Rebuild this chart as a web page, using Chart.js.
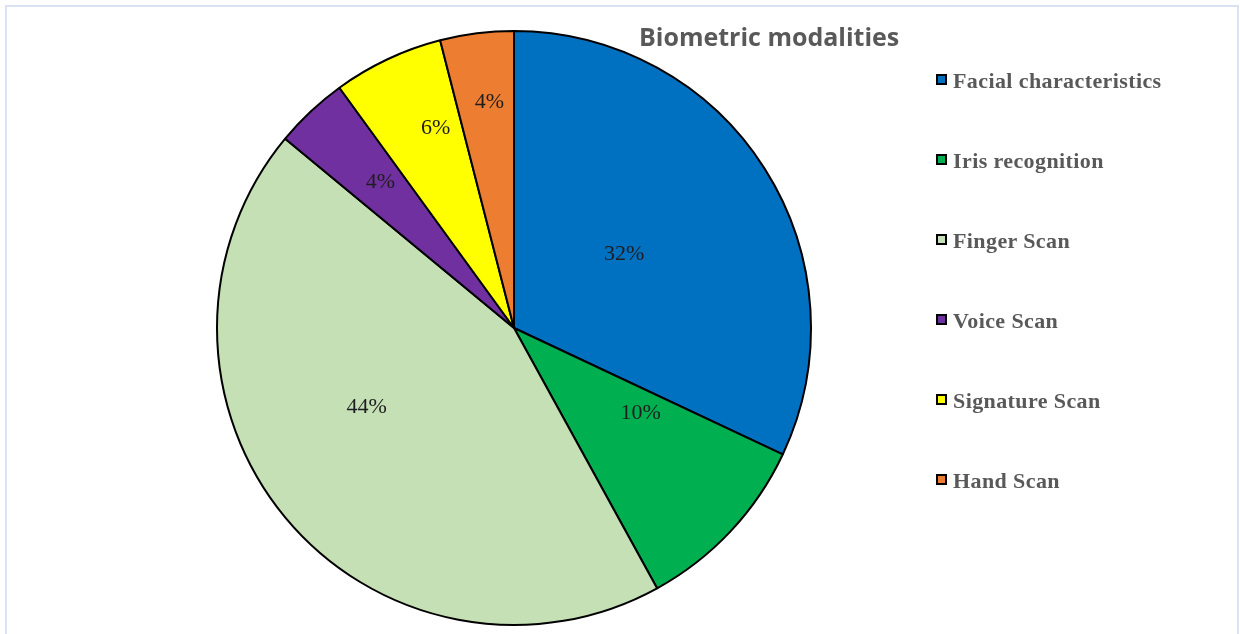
<!DOCTYPE html>
<html>
<head>
<meta charset="utf-8">
<script src="https://cdn.jsdelivr.net/npm/chart.js@4/dist/chart.umd.min.js"></script>
<style>
	html, body { margin: 0; padding: 0; background: #ffffff; }
	#frame
	{
		position: relative;
		width: 1240px;
		height: 634px;
		overflow: hidden;
	}
	#border
	{
		position: absolute;
		left: 5px; top: 5px;
		width: 1234px; height: 640px;
		border: 2px solid #dae3f3;
		box-sizing: border-box;
	}
	#pie-canvas { position: absolute; left: 0; top: 0; }
	#chart-title
	{
		position: absolute;
		left: 639px; top: 19px;
		font-family: "Open Sans", sans-serif;
		font-weight: bold;
		font-size: 25px;
		color: #595959;
		white-space: nowrap;
	}
	#legend { position: absolute; left: 936px; top: 68px; }
	.legend-item
	{
		position: relative;
		height: 80px;
		font-family: "Liberation Serif", serif;
		font-weight: bold;
		font-size: 22px;
		letter-spacing: 0.4px;
		color: #595959;
		white-space: nowrap;
	}
	.legend-box
	{
		position: absolute;
		left: 0; top: 6px;
		width: 11px; height: 11px;
		border: 2px solid #000000;
		box-sizing: border-box;
	}
	.legend-text { position: absolute; left: 17px; top: 2px; line-height: 22px; }
</style>
</head>
<body>
<div id="frame">
	<div id="border"></div>
	<canvas id="pie-canvas" width="1240" height="634"></canvas>
	<div id="chart-title">Biometric modalities</div>
	<div id="legend"></div>
</div>
<script>
const modalities = ["Facial characteristics", "Iris recognition", "Finger Scan", "Voice Scan", "Signature Scan", "Hand Scan"];
const shares = [32, 10, 44, 4, 6, 4];
const sliceColors = ["#0070c0", "#00b050", "#c5e0b4", "#7030a0", "#ffff00", "#ed7d31"];

// where each percentage sits: [angle shift from slice middle in degrees, fraction of radius]
const labelPlacement = [[-2, 0.45], [-10, 0.51], [12, 0.56], [1, 0.67], [4, 0.73], [1, 0.77]];

const legendEl = document.getElementById("legend");
for(let i = 0; i < modalities.length; i++)
{
	legendEl.innerHTML +=
		"<div class=\"legend-item\">" +
			"<div class=\"legend-box\" style=\"background:" + sliceColors[i] + "\"></div>" +
			"<span class=\"legend-text\">" + modalities[i] + "</span>" +
		"</div>";
}

const percentLabels =
{
	id: "percentLabels",
	afterDatasetsDraw(chart)
	{
		const ctx = chart.ctx;
		const meta = chart.getDatasetMeta(0);
		ctx.save();
		ctx.font = "22px 'Liberation Serif', serif";
		ctx.fillStyle = "#1e1e1e";
		ctx.textAlign = "center";
		ctx.textBaseline = "middle";
		meta.data.forEach((arc, i) =>
		{
			const p = arc.getProps(["x", "y", "startAngle", "endAngle", "outerRadius"], true);
			const mid = (p.startAngle + p.endAngle) / 2 + labelPlacement[i][0] * Math.PI / 180;
			const r = p.outerRadius * labelPlacement[i][1];
			ctx.fillText(shares[i] + "%", p.x + Math.cos(mid) * r, p.y + Math.sin(mid) * r + 2);
		});
		ctx.restore();
	}
};

new Chart(document.getElementById("pie-canvas").getContext("2d"),
{
	type: "pie",
	plugins: [percentLabels],
	data:
	{
		labels: modalities,
		datasets:
		[{
			data: shares,
			backgroundColor: sliceColors,
			borderColor: "#000000",
			borderWidth: 2,
			borderAlign: "center"
		}]
	},
	options:
	{
		responsive: false,
		animation: false,
		layout: { padding: { left: 216, top: 30, right: 428, bottom: 8 } },
		plugins:
		{
			legend: { display: false },
			tooltip: { enabled: false },
			title: { display: false }
		}
	}
});
</script>
</body>
</html>
